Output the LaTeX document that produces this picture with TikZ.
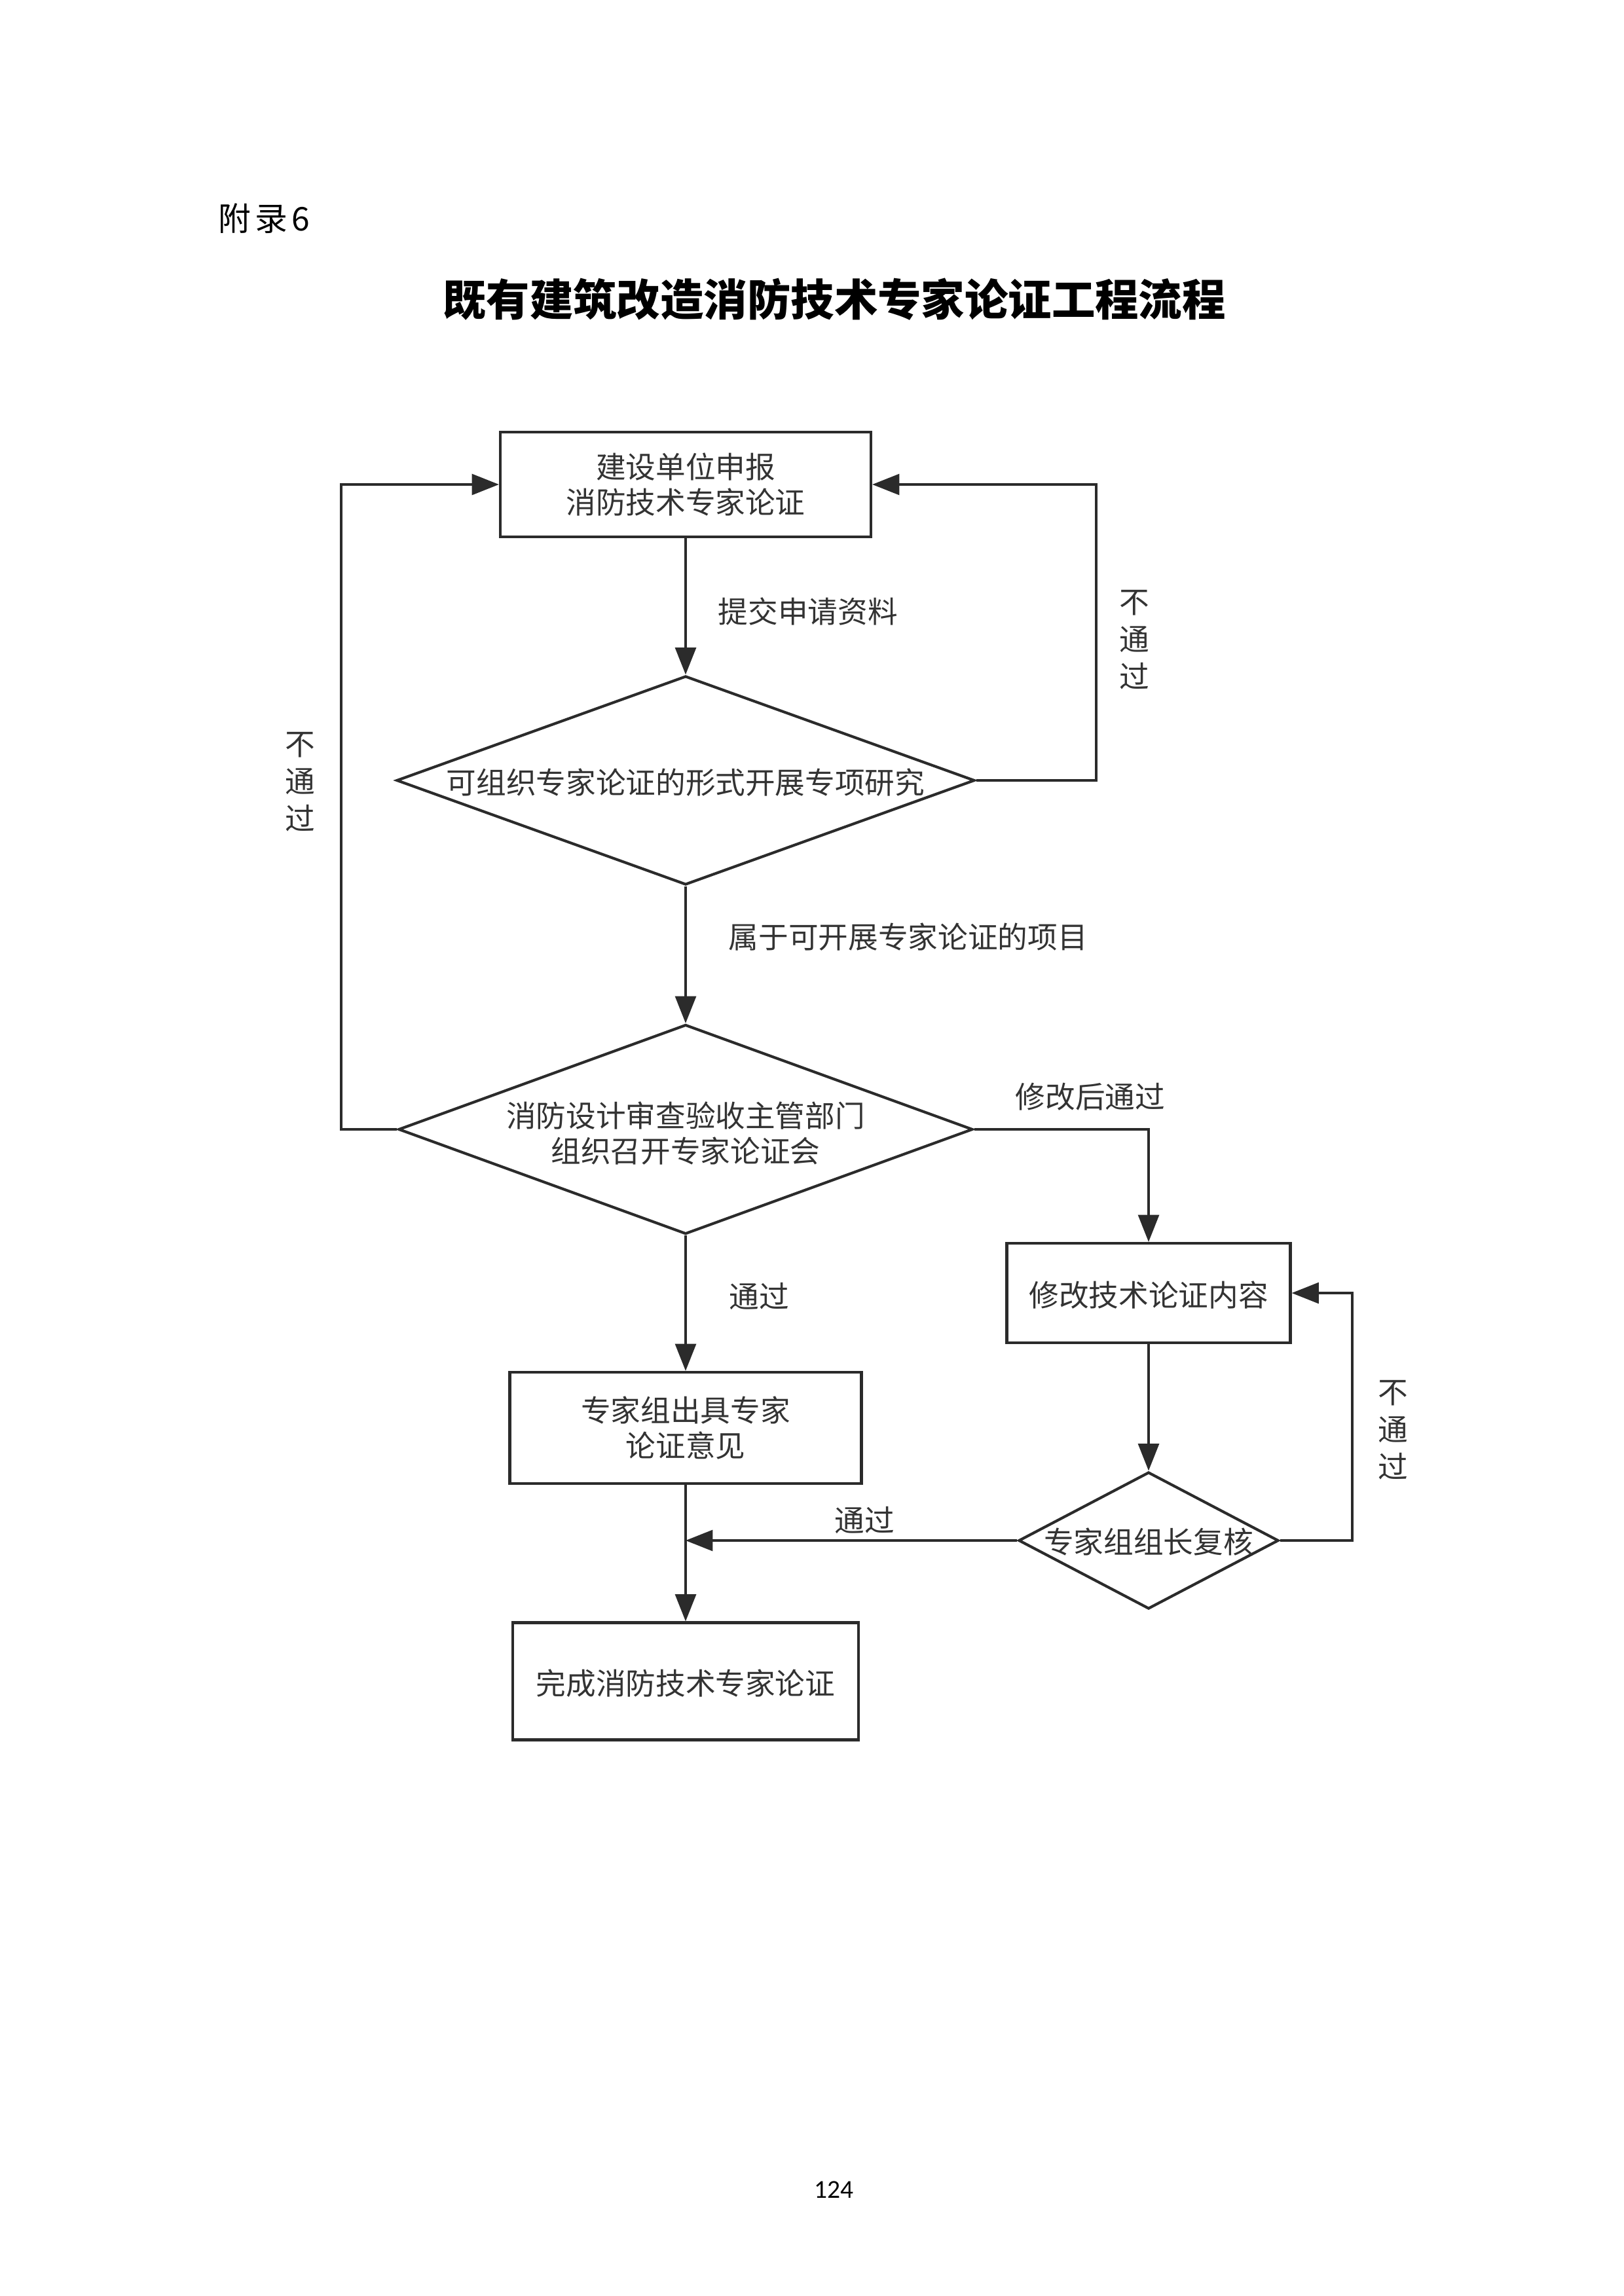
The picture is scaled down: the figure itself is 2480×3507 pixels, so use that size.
\documentclass[tikz,border=0pt]{standalone}
\usepackage{fontspec}
\setmainfont{Noto Sans CJK SC}
\newfontfamily\pagenumfont{Carlito}
\usetikzlibrary{arrows.meta,shapes.geometric}
\definecolor{ln}{HTML}{2B2B2B}
\definecolor{tx}{HTML}{333333}
\newcommand\pxu{0.0846774mm}
\begin{document}
\begin{tikzpicture}[x=0.0846774mm,y=-0.0846774mm,
  boxnode/.style={draw=ln,line width=1pt,rectangle,inner sep=0pt},
  dianode/.style={draw=ln,line width=1pt,diamond,inner sep=0pt},
  txt/.style={text=tx,font=\fontsize{11pt}{12.8pt}\selectfont,align=center,inner sep=0pt},
  vlabel/.style={text=tx,font=\fontsize{11pt}{13.7pt}\selectfont,align=center,inner sep=0pt},
  arr/.style={draw=ln,line width=0.8pt,-{Triangle[length=3.5mm,width=2.7mm]}},
  plain/.style={draw=ln,line width=0.8pt}]
\useasboundingbox[fill=white] (0,0) rectangle (2480,3507);

% header and title
\node[anchor=west,inner sep=0pt,font=\fontsize{12pt}{14pt}\selectfont\addfontfeatures{LetterSpace=12}] (appx) at (333,334) {附录6};
\node[inner sep=0pt,font=\fontsize{16pt}{20pt}\selectfont\bfseries] (title) at (1274,457) {既有建筑改造消防技术专家论证工程流程};

% shapes
\node[boxnode,minimum width=566*\pxu,minimum height=160*\pxu] (b1) at (1047,740) {};
\node[dianode,minimum width=883*\pxu,minimum height=319*\pxu] (d1) at (1047,1192) {};
\node[dianode,minimum width=877*\pxu,minimum height=320*\pxu] (d2) at (1047,1725) {};
\node[boxnode,minimum width=433*\pxu,minimum height=152*\pxu] (b3) at (1754,1975) {};
\node[boxnode,minimum width=537*\pxu,minimum height=170*\pxu] (b2) at (1047,2181) {};
\node[dianode,minimum width=397*\pxu,minimum height=209*\pxu] (d3) at (1754,2353) {};
\node[boxnode,minimum width=528*\pxu,minimum height=179*\pxu] (b4) at (1047,2568) {};

% texts in shapes
\node[txt] (t1) at (b1) {建设单位申报\\消防技术专家论证};
\node[txt] (t2) at (1047,1195) {可组织专家论证的形式开展专项研究};
\node[txt] (t3) at (1047,1731) {消防设计审查验收主管部门\\组织召开专家论证会};
\node[txt] (t4) at (1754,1978) {修改技术论证内容};
\node[txt] (t5) at (b2) {专家组出具专家\\论证意见};
\node[txt] (t6) at (1754,2355) {专家组组长复核};
\node[txt] (t7) at (1047,2571) {完成消防技术专家论证};

% loop coordinates
\coordinate (lx) at (521,0);
\coordinate (rx1) at (1674,0);
\coordinate (rx3) at (2065,0);

% connectors
\draw[arr] (b1.south) -- (d1.north);
\draw[arr] (d1.east) -- (d1.east -| rx1) |- (b1.east);
\draw[arr] (d1.south) -- (d2.north);
\draw[arr] (d2.west) -- (d2.west -| lx) |- (b1.west);
\draw[arr] (d2.east) -| (b3.north);
\draw[arr] (d2.south) -- (b2.north);
\draw[arr] (b3.south) -- (d3.north);
\draw[arr] (d3.east) -- (d3.east -| rx3) |- (b3.east);
\draw[arr] (d3.west) -- (d3.west -| b2.south);
\draw[arr] (b2.south) -- (b4.north);

% connector labels
\node[txt,anchor=west] (l1) at (1096,934) {提交申请资料};
\node[vlabel] (l2) at (1732,977) {不\\通\\过};
\node[vlabel] (l3) at (458,1194) {不\\通\\过};
\node[txt,anchor=west] (l4) at (1112,1431) {属于可开展专家论证的项目};
\node[txt,anchor=west] (l5) at (1550,1675) {修改后通过};
\node[txt] (l6) at (1159,1980) {通过};
\node[vlabel] (l7) at (2127,2184) {不\\通\\过};
\node[txt] (l8) at (1320,2322) {通过};

% page number
\node[inner sep=0pt,font=\pagenumfont\fontsize{9.5pt}{11pt}\selectfont] (pg) at (1273,3345) {124};
\end{tikzpicture}
\end{document}
